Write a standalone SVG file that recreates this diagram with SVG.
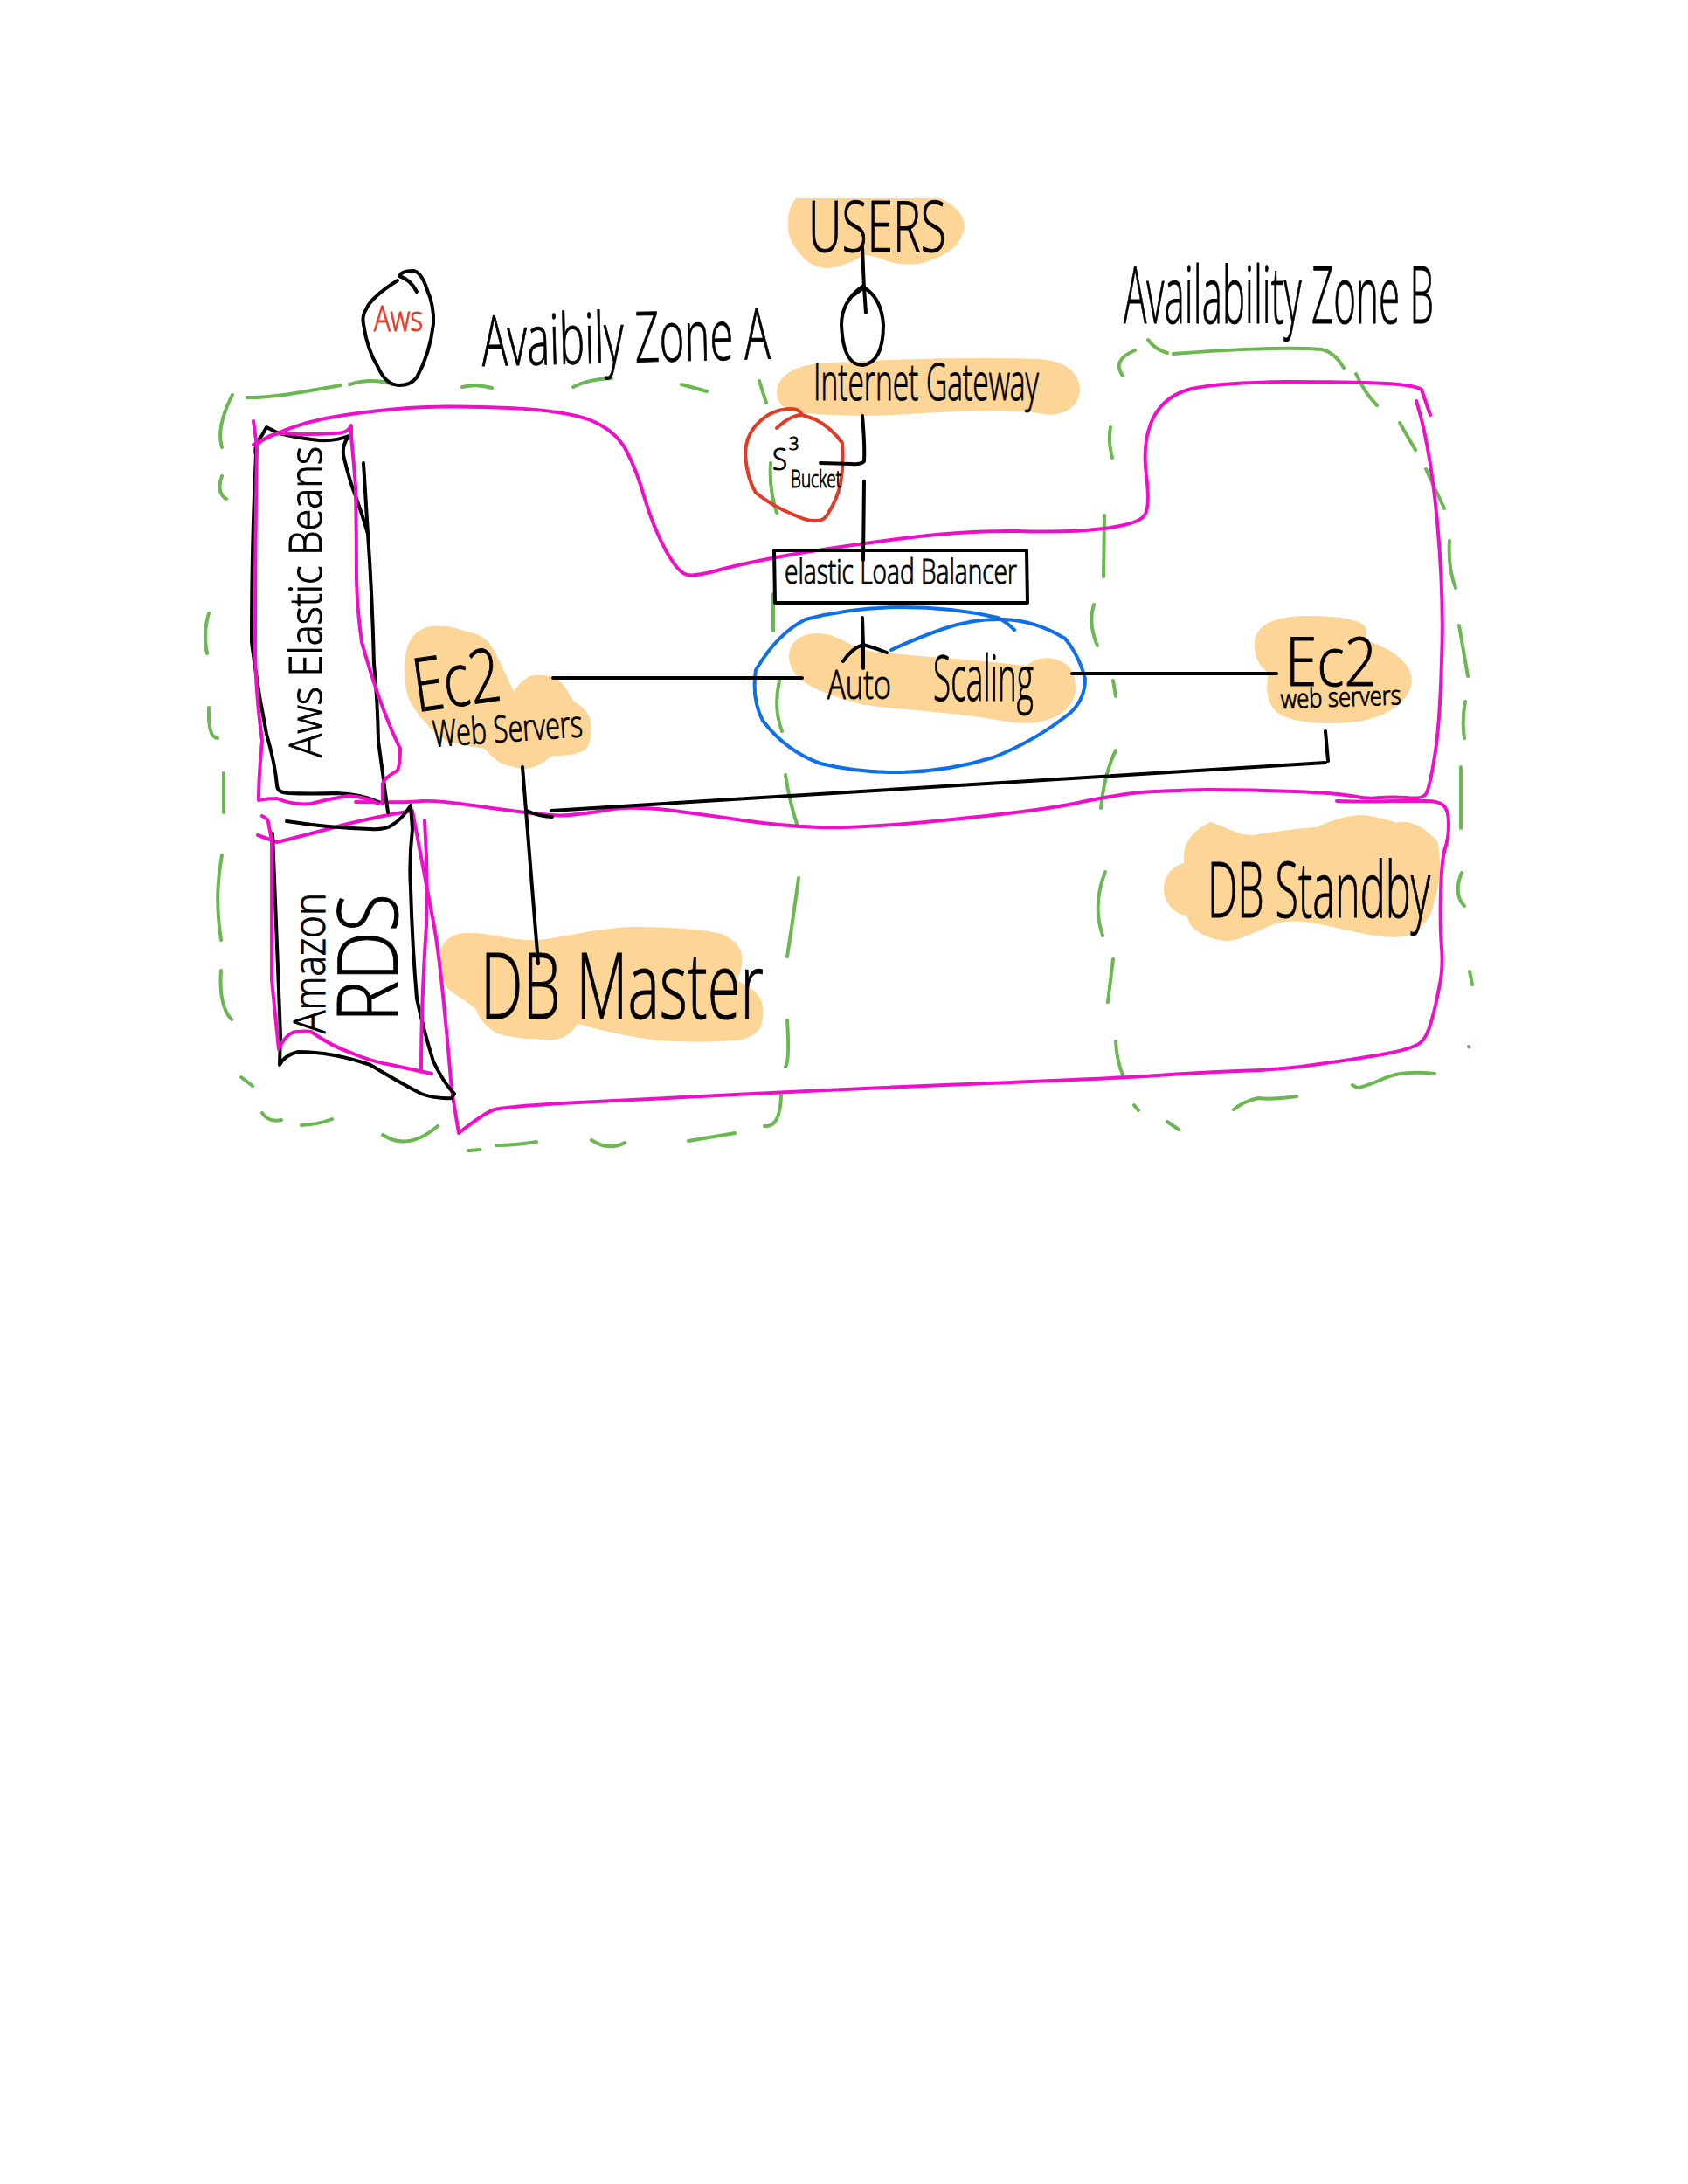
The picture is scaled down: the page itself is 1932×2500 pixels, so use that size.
<svg xmlns="http://www.w3.org/2000/svg" width="1932" height="2500" viewBox="0 0 1932 2500">
<style>
.blob{fill:#FDD596;stroke:none}
.ink,.green,.pink,.blue,.red{fill:none;stroke-linecap:round;stroke-linejoin:round}
.ink{stroke:#000;stroke-width:4}
.green{stroke:#6BB851;stroke-width:4}
.pink{stroke:#F00ECB;stroke-width:4}
.blue{stroke:#0E6FEA;stroke-width:4}
.red{stroke:#E23A26;stroke-width:4}
text{font-family:"Open Sans","Liberation Sans",sans-serif;fill:#000;font-weight:300;stroke:#000;stroke-width:1}
</style>
<rect width="1932" height="2500" fill="#fff"/>
<g id="blobs">
<path class="blob" d="M911 227 L1076 227 Q1104 240 1104 261 Q1100 278 1087 287 Q1070 298 1052 302 Q1030 304 1016 299 Q1000 292 988 292 Q965 307 944 307 Q925 304 917 292 Q900 275 902 253 Q902 238 911 227Z"/>
<path class="blob" d="M889 450 C889 430 910 418 940 416 C1000 412 1100 408 1190 411 C1225 414 1236 430 1236 447 C1234 468 1215 477 1195 474 C1160 468 1100 470 1040 474 C1000 477 940 476 915 472 C898 470 889 462 889 450Z"/>
<path class="blob" d="M903 750 C905 730 925 722 945 726 C965 730 975 742 1000 746 C1060 752 1120 756 1175 762 C1190 748 1215 752 1225 765 C1236 785 1232 805 1215 816 C1195 830 1170 830 1140 824 C1090 815 1020 812 985 806 C950 795 903 785 903 750Z"/>
<path class="blob" d="M1436 735 C1437 715 1460 705 1495 705 C1525 705 1564 708 1564 722 L1563 733 C1592 742 1616 758 1616 780 C1612 805 1590 818 1560 825 C1530 830 1490 830 1465 818 C1450 808 1448 790 1452 770 C1440 762 1435 750 1436 735Z"/>
<path class="blob" d="M1332 1017 C1332 1000 1345 990 1355 988 C1354 970 1358 955 1385 941 C1400 945 1415 956 1433 956 C1460 952 1485 948 1507 947 C1525 938 1545 933 1560 933 C1575 935 1590 938 1598 942 C1605 939 1625 940 1645 963 C1650 985 1648 1005 1645 1020 C1640 1035 1640 1045 1633 1053 C1625 1065 1615 1072 1607 1072 C1590 1074 1580 1072 1567 1070 C1540 1065 1515 1058 1493 1055 C1480 1054 1470 1054 1460 1057 C1440 1065 1420 1077 1403 1077 C1385 1076 1372 1068 1363 1060 L1358 1048 C1345 1046 1332 1035 1332 1017Z"/>
<path class="blob" d="M464 752 C466 730 480 717 496 717 C510 716 522 718 530 722 C545 725 552 728 559 735 C570 750 580 775 588 792 C595 780 605 773 613 773 C625 772 635 775 642 781 C650 790 652 796 656 802 C668 810 676 818 676 827 C677 840 676 850 671 857 C660 865 645 865 632 865 C620 875 610 880 598 880 C585 878 575 875 569 871 C562 865 558 860 554 857 C540 855 525 852 511 848 C503 842 497 838 491 832 C480 820 472 810 467 798 C462 780 462 765 464 752Z"/>
<path class="blob" d="M504 1088 C508 1075 520 1068 535 1068 C565 1068 590 1078 617 1076 C650 1072 690 1061 729 1061 C765 1061 800 1063 826 1069 C840 1075 849 1085 849 1095 C850 1110 845 1118 843 1122 C855 1128 868 1135 872 1147 C874 1160 873 1170 870 1177 C862 1187 850 1191 840 1191 C810 1193 780 1193 753 1191 C720 1187 690 1180 661 1172 C655 1182 645 1190 632 1190 C610 1190 585 1188 569 1183 C555 1175 548 1165 545 1156 C535 1145 520 1140 511 1130 C503 1115 502 1100 504 1088Z"/>
</g>
<g id="zones">
<g id="zone-a-outline">
<path class="green" d="M266 452 Q247 489 254 512 M283 455 C310 456 350 448 390 441 M400 440 Q426 432 450 440 M529 443 Q545 439 563 444 M656 443 Q673 434 700 433 M780 440 L809 448 M869 436 L877 461 M254 545 Q247 564 259 571 M882 530 Q880 560 889 587 M885 680 L885 722 M892 779 Q885 811 895 837 M899 887 Q903 916 913 946 M239 810 Q238 845 249 845 M239 702 Q232 725 237 748 M256 885 L256 930 M254 979 Q245 1025 253 1076 M253 1111 Q250 1151 265 1167 M276 1233 L289 1243 M300 1274 Q307 1285 322 1282 M345 1288 Q365 1287 380 1281 M438 1299 Q467 1318 501 1289 M536 1317 L549 1316 M568 1311 Q590 1311 614 1307 M677 1305 Q697 1318 715 1308 M788 1306 L841 1297 M875 1289 Q893 1291 894 1254 M901 1168 Q904 1215 899 1221 M914 1005 Q908 1050 901 1095"/>
</g>
<g id="zone-b-outline">
<path class="green" d="M1260 925 Q1264 885 1277 859 M1274 779 L1277 797 M1252 692 Q1245 714 1256 739 M1264 590 L1263 660 M1271 489 Q1268 505 1273 524 M1285 430 Q1272 412 1299 401 M1314 389 Q1322 400 1336 404 M1343 405 C1380 402 1470 396 1513 400 Q1527 403 1538 421 M1552 428 Q1562 450 1576 464 M1602 484 L1620 515 M1632 537 Q1645 565 1653 582 M1659 619 Q1657 650 1666 673 M1670 716 L1680 774 M1677 803 Q1673 825 1676 845 M1672 878 L1672 948 M1673 999 Q1663 1023 1676 1037 M1682 1112 L1685 1127 M1681 1198 L1681.5 1198.5 M1642 1229 Q1605 1225 1585 1234 Q1560 1245 1553 1245 L1548 1242 M1484 1255 Q1455 1259 1440 1257 Q1425 1260 1412 1270 M1349 1293 L1336 1284 M1303 1271 L1298 1265 M1277 1192 Q1278 1215 1286 1233 M1274 1098 L1268 1147 M1265 998 Q1250 1035 1262 1071"/>
</g>
<g id="web-tier-outline">
<path class="pink" d="M290 509 Q331 487 372 479 Q414 471 467 467 Q520 464 583 467 Q647 470 676 481 Q705 493 717 516 Q729 539 738 571 Q748 604 762 630 Q777 657 787 658 Q797 660 828 651 Q860 643 905 635 Q950 627 1027 617 Q1104 607 1164 608 Q1225 610 1263 605 Q1302 600 1309 591 Q1317 583 1312 544 Q1307 505 1320 478 Q1334 452 1364 445 Q1395 438 1474 437 Q1554 437 1587 439 Q1620 441 1627 446 L1637 475"/>
<path class="pink" d="M1621 459 Q1637 510 1645 597 Q1653 685 1650 757 Q1648 830 1642 866 Q1636 903 1632 909 Q1628 915 1610 913 Q1593 912 1579 913 Q1565 915 1547 911 Q1530 908 1481 906 Q1433 904 1383 904 Q1333 905 1305 907 Q1277 910 1238 918 Q1200 927 1090 938 Q980 949 939 947 Q899 946 850 939 Q802 932 763 927 Q724 923 702 926 Q680 930 661 932 Q642 935 620 932 Q598 930 549 923 Q501 916 484 917 Q467 919 407 918"/>
</g>
<g id="db-tier-outline">
<path class="pink" d="M1530 917 Q1567 918 1592 917 Q1617 917 1632 917 Q1647 917 1652 922 Q1658 927 1658 943 Q1658 960 1654 971 Q1650 983 1649 1021 Q1648 1060 1650 1085 Q1652 1110 1647 1131 Q1643 1153 1638 1170 Q1633 1188 1625 1194 Q1617 1200 1592 1205 Q1567 1210 1517 1217 Q1467 1225 1417 1226 Q1367 1228 1325 1231 Q1283 1234 1131 1240 Q980 1246 842 1253 Q705 1260 642 1263 Q579 1267 566 1270 Q554 1274 525 1297 L517 1248 Q504 1092 495 1050 Q487 1008 472 928 Q430 935 390 945 Q350 956 317 964 L295 956"/>
</g>
</g>
<g id="aws-cloud">
<path class="ink" d="M455 321 Q425 340 419 354 Q414 362 416 371 Q420 400 433 421 Q442 441 457 441 Q470 441 477 432 Q492 405 496 371 Q497 350 489 332 Q482 310 472 310 Q460 310 457 316 Q470 320 477 334"/>
<text x="428" y="379" font-size="40" textLength="56" lengthAdjust="spacingAndGlyphs" style="fill:#E23A26;stroke:#E23A26">Aws</text>
</g>
<g id="zone-a-label"><text transform="translate(552 419) rotate(-1.5)" font-size="80" textLength="330" lengthAdjust="spacingAndGlyphs">Avaibily Zone A</text></g>
<g id="zone-b-label"><text x="1286" y="370" font-size="90" textLength="355" lengthAdjust="spacingAndGlyphs">Availability Zone B</text></g>
<g id="users"><text x="925" y="288" font-size="82" textLength="158" lengthAdjust="spacingAndGlyphs">USERS</text></g>
<g id="internet-gateway-icon"><path class="ink" d="M987 328 Q963 345 963 372 Q965 418 987 418 Q1011 415 1011 372 Q1009 340 987 328 M977 338 L989 329 L991 358"/></g>
<g id="internet-gateway"><text x="931" y="458" font-size="58" textLength="258" lengthAdjust="spacingAndGlyphs">Internet Gateway</text></g>
<g id="s3-bucket">
<path class="red" d="M889 490 Q905 475 918 475 Q915 468 906 468 Q885 468 870 482 Q853 497 853 521 Q855 548 865 564 Q885 580 908 589 Q925 597 933 596 Q942 597 947 589 Q958 572 962 554 Q966 530 964 507 Q952 490 933 480 L918 475"/>
<text x="884" y="538" font-size="34" textLength="17" lengthAdjust="spacingAndGlyphs">S</text>
<text x="903" y="515" font-size="20">3</text>
<text x="905" y="558" font-size="28" textLength="58" lengthAdjust="spacingAndGlyphs">Bucket</text>
</g>
<g id="elastic-load-balancer">
<path class="ink" d="M886 630 L1175 630 L1176 690 L887 690 Z"/>
<text x="898" y="668" font-size="38" textLength="266" lengthAdjust="spacingAndGlyphs">elastic Load Balancer</text>
</g>
<g id="auto-scaling">
<path class="blue" d="M1161 721 Q1152 712 1142 707 Q1090 695 1032 695 Q975 695 922 709 Q890 725 865 767 Q860 800 873 825 Q900 860 939 874 Q985 885 1032 884 Q1085 883 1137 867 Q1185 848 1225 816 Q1242 800 1242 777 Q1235 750 1219 731 Q1185 710 1148 709 Q1115 708 1082 719 Q1050 730 1020 744"/>
<text x="947" y="800" font-size="46" textLength="73" lengthAdjust="spacingAndGlyphs">Auto</text>
<text x="1068" y="802" font-size="72" textLength="115" lengthAdjust="spacingAndGlyphs">Scaling</text>
</g>
<g id="ec2-a">
<text transform="translate(477 815) rotate(-8)" font-size="85" textLength="100" lengthAdjust="spacingAndGlyphs">Ec2</text>
<text transform="translate(496 855) rotate(-4)" font-size="42" textLength="172" lengthAdjust="spacingAndGlyphs">Web Servers</text>
</g>
<g id="ec2-b">
<text x="1471" y="785" font-size="78" textLength="105" lengthAdjust="spacingAndGlyphs">Ec2</text>
<text transform="translate(1466 811) rotate(-2)" font-size="30" textLength="138" lengthAdjust="spacingAndGlyphs">web servers</text>
</g>
<g id="db-master"><text x="550" y="1166" font-size="105" textLength="324" lengthAdjust="spacingAndGlyphs">DB Master</text></g>
<g id="db-standby"><text x="1382" y="1050" font-size="88" textLength="255" lengthAdjust="spacingAndGlyphs">DB Standby</text></g>
<g id="aws-elastic-beanstalk">
<path class="ink" d="M300 498 L305 489 L319 496 Q345 502 365 504 Q385 505 399 499 Q390 512 394 525 Q400 550 407 568 Q415 590 421 611 L416 530 M421 611 Q426 680 428 760 Q432 800 433 848 L444 930 M300 498 Q290 510 293 521 Q288 620 288 735 Q295 790 305 840 Q315 875 317 899 Q317 907 330 908 Q356 909 385 908 Q414 909 433 918"/>
<path class="pink" d="M290 482 L294 511 Q292 620 292 736 Q292 790 300 848 Q296 890 296 916 Q305 914 317 914 Q336 922 356 920 Q378 914 399 911 Q418 912 433 920 M294 509 Q305 498 319 496 Q350 498 385 496 Q398 496 402 487 L402 500 Q405 530 407 557 Q408 610 408 664 Q409 700 414 735 Q435 810 458 857 Q458 875 455 882 Q440 890 438 897 L438 920"/>
<text transform="translate(368 867) rotate(-90)" font-size="52" textLength="356" lengthAdjust="spacingAndGlyphs">Aws Elastic Beans</text>
</g>
<g id="amazon-rds">
<path class="ink" d="M328 940 Q380 948 424 949 Q440 950 448 945 Q460 938 470 922 L472 949 Q468 985 470 1017 Q472 1085 477 1143 Q485 1180 496 1215 Q508 1240 520 1252 L517 1257 Q498 1258 482 1252 Q450 1235 424 1219 Q380 1204 341 1204 Q325 1208 320 1219 L321 1185 L312 954"/>
<path class="pink" d="M300 934 Q307 938 307 941 L311 962 L311 1122 L319 1201 Q328 1182 339 1181 Q350 1180 356 1181 Q380 1198 404 1206 Q425 1215 448 1219 L494 1229 M486 939 Q490 1000 488 1059 Q482 1150 482 1227"/>
<text transform="translate(372 1183) rotate(-90)" font-size="50" textLength="161" lengthAdjust="spacingAndGlyphs">Amazon</text>
<text transform="translate(455 1170) rotate(-90)" font-size="95" textLength="147" lengthAdjust="spacingAndGlyphs">RDS</text>
</g>
<g id="connectors">
<path class="ink" d="M987 283 L989 331"/>
<path class="ink" d="M987 476 Q990 510 989 528 Q985 532 975 531 L939 530"/>
<path class="ink" d="M989 551 L988 641"/>
<path class="ink" d="M987 707 L988 738 M965 757 Q975 742 988 738 Q1003 742 1015 747 M988 738 L988 765"/>
<path class="ink" d="M633 776 L918 776"/>
<path class="ink" d="M1227 771 L1461 771"/>
<path class="ink" d="M598 878 L616 1103"/>
<path class="ink" d="M631 928 L1517 873 M1517 837 L1520 871 M603 928 Q615 934 632 935"/>
</g>
</svg>
